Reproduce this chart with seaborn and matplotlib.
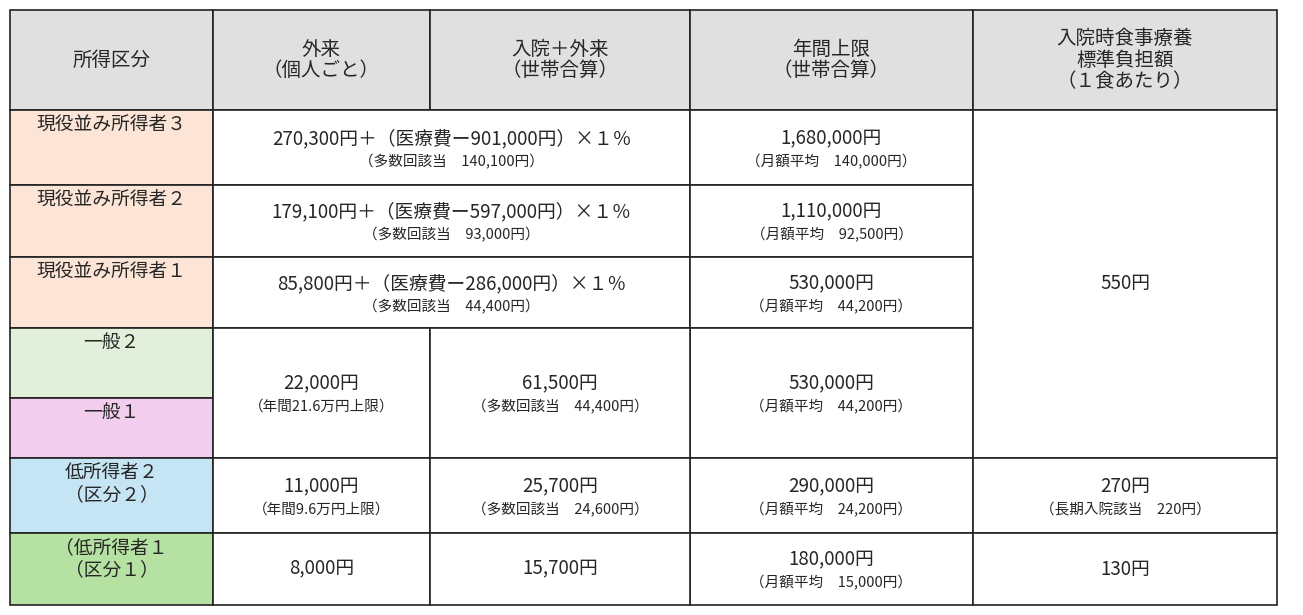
import matplotlib.pyplot as plt
import seaborn as sns
from matplotlib.patches import Rectangle

sns.set_style('white')
plt.rcParams['font.family'] = ['Noto Sans CJK JP', 'DejaVu Sans']

# column edges and row edges (pixels)
col_x = [10, 213, 430, 690, 973, 1277]
row_y = [10, 110, 185, 257, 328, 398, 458, 533, 605]

headers = ['所得区分', '外来\n（個人ごと）', '入院＋外来\n（世帯合算）', '年間上限\n（世帯合算）',
           '入院時食事療養\n標準負担額\n（１食あたり）']
row_labels = ['現役並み所得者３', '現役並み所得者２', '現役並み所得者１', '一般２', '一般１',
              '低所得者２\n（区分２）', '（低所得者１\n（区分１）']
row_colors = ['#fce4d6', '#fce4d6', '#fce4d6', '#e2efda', '#f2cdee', '#c5e5f5', '#b5e1a3']

combined_main = ['270,300円＋（医療費ー901,000円）×１％', '179,100円＋（医療費ー597,000円）×１％',
                 '85,800円＋（医療費ー286,000円）×１％']
combined_sub = ['（多数回該当　140,100円）', '（多数回該当　93,000円）', '（多数回該当　44,400円）']
annual_main = ['1,680,000円', '1,110,000円', '530,000円', '530,000円', '290,000円', '180,000円']
annual_sub = ['（月額平均　140,000円）', '（月額平均　92,500円）', '（月額平均　44,200円）',
              '（月額平均　44,200円）', '（月額平均　24,200円）', '（月額平均　15,000円）']
outpatient_main = ['22,000円', '11,000円', '8,000円']
outpatient_sub = ['（年間21.6万円上限）', '（年間9.6万円上限）', '']
inpatient_main = ['61,500円', '25,700円', '15,700円']
inpatient_sub = ['（多数回該当　44,400円）', '（多数回該当　24,600円）', '']
meal_main = ['550円', '270円', '130円']
meal_sub = ['', '（長期入院該当　220円）', '']

fig = plt.figure(figsize=(13.03, 6.15), dpi=100)
ax = fig.add_axes([0, 0, 1, 1])
ax.set_xlim(0, 1303)
ax.set_ylim(615, 0)
ax.axis('off')

MAIN, SUB, HEAD = 13.5, 10.5, 14


def cell(x0, x1, y0, y1, color='white'):
    ax.add_patch(Rectangle((x0, y0), x1 - x0, y1 - y0, facecolor=color, edgecolor='#222222', lw=1.2))


def two_line(x0, x1, y0, y1, main, sub):
    cx, cy = (x0 + x1) / 2, (y0 + y1) / 2
    if sub:
        ax.text(cx, cy - 9, main, ha='center', va='center', fontsize=MAIN)
        ax.text(cx, cy + 14, sub, ha='center', va='center', fontsize=SUB)
    else:
        ax.text(cx, cy, main, ha='center', va='center', fontsize=MAIN)


# header
for i, h in enumerate(headers):
    cell(col_x[i], col_x[i + 1], row_y[0], row_y[1], '#e0e0e0')
    ax.text((col_x[i] + col_x[i + 1]) / 2, (row_y[0] + row_y[1]) / 2, h,
            ha='center', va='center', fontsize=HEAD, linespacing=1.05)

# row labels
for r, (lab, c) in enumerate(zip(row_labels, row_colors)):
    y0, y1 = row_y[r + 1], row_y[r + 2]
    cell(col_x[0], col_x[1], y0, y1, c)
    ax.text((col_x[0] + col_x[1]) / 2, y0 + 4, lab, ha='center', va='top', fontsize=MAIN, linespacing=1.05)

# rows 1-3: combined columns
for r in range(3):
    y0, y1 = row_y[r + 1], row_y[r + 2]
    cell(col_x[1], col_x[3], y0, y1)
    two_line(col_x[1], col_x[3], y0, y1, combined_main[r], combined_sub[r])

# annual limits
annual_rows = [(1, 2), (2, 3), (3, 4), (4, 6), (6, 7), (7, 8)]
for k, (a, b) in enumerate(annual_rows):
    cell(col_x[3], col_x[4], row_y[a], row_y[b])
    two_line(col_x[3], col_x[4], row_y[a], row_y[b], annual_main[k], annual_sub[k])

# outpatient / inpatient for 一般 and 低所得者
lower_rows = [(4, 6), (6, 7), (7, 8)]
for k, (a, b) in enumerate(lower_rows):
    cell(col_x[1], col_x[2], row_y[a], row_y[b])
    two_line(col_x[1], col_x[2], row_y[a], row_y[b], outpatient_main[k], outpatient_sub[k])
    cell(col_x[2], col_x[3], row_y[a], row_y[b])
    two_line(col_x[2], col_x[3], row_y[a], row_y[b], inpatient_main[k], inpatient_sub[k])

# meal costs
meal_rows = [(1, 6), (6, 7), (7, 8)]
for k, (a, b) in enumerate(meal_rows):
    cell(col_x[4], col_x[5], row_y[a], row_y[b])
    two_line(col_x[4], col_x[5], row_y[a], row_y[b], meal_main[k], meal_sub[k])

fig.savefig('out.png', dpi=100)
